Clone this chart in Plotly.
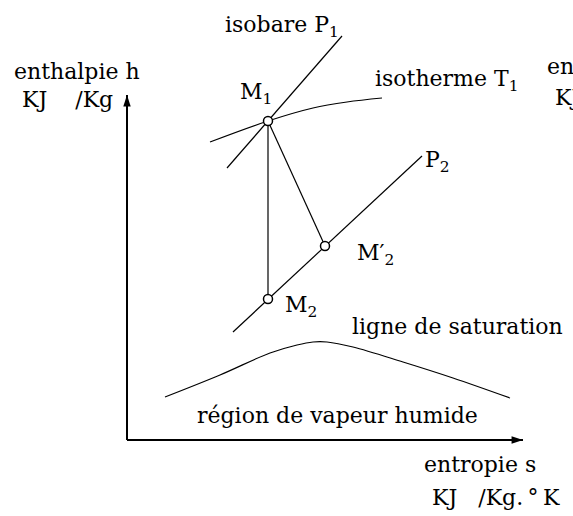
import plotly.graph_objects as go

# h-s (Mollier) sketch: expansion from M1 on isobar P1 down to isobar P2.
# Coordinates are in arbitrary diagram units (s to the right, h upward).

# axes extent (origin at 0, 0)
s_axis_end = 396
h_axis_end = 345

# state points
M1 = (141, 319)
M2 = (141, 141)      # isentropic end state
M2p = (198, 194)     # real end state M'2

# isobar P1 through M1
isobar_p1_s = [100, 215]
isobar_p1_h = [272, 404]

# isobar P2 through M2 and M'2
isobar_p2_s = [106, 295]
isobar_p2_h = [108, 284]

# isotherm T1 through M1
isotherm_s = [83, 141, 186, 220, 255]
isotherm_h = [298, 319, 332, 338, 342]

# saturation curve
sat_s = [38, 93, 143, 170, 186, 200, 226, 276, 326, 383]
sat_h = [43, 65, 87, 95, 98, 98, 93, 78, 62, 42]

FONT = "DejaVu Serif"
FS = 22
NB = "\u00a0"
THIN = "\u2009"

h_unit = "KJ" + NB * 4 + "/Kg"
s_unit = "KJ" + NB * 3 + "/Kg." + THIN + "°" + THIN + "K"

labels = [
    # text, s (left edge), h (vertical centre)
    ("isobare P<sub>1</sub>", 96, 414),
    ("isotherme T<sub>1</sub>", 246, 360),
    ("enthalpie h", -115, 369),
    (h_unit, -107, 341),
    ("enthalpie h", 418, 374),
    (h_unit, 426, 343),
    ("M<sub>1</sub>", 111, 347),
    ("P<sub>2</sub>", 296, 279),
    ("M\u2032<sub>2</sub>", 228, 186),
    ("M<sub>2</sub>", 156, 134),
    ("ligne de saturation", 223, 114),
    ("région de vapeur humide", 68, 25),
    ("entropie s", 295, -24),
    (s_unit, 303, -57),
]

thin = dict(color="black", width=1.2)

fig = go.Figure()

# axes
fig.add_trace(go.Scatter(x=[0, 0], y=[0, h_axis_end], mode="lines",
                         line=dict(color="black", width=2)))
fig.add_trace(go.Scatter(x=[0, s_axis_end], y=[0, 0], mode="lines",
                         line=dict(color="black", width=2)))
fig.add_trace(go.Scatter(x=[0, s_axis_end], y=[h_axis_end, 0], mode="markers",
                         marker=dict(symbol="arrow", size=12, color="black",
                                     angle=[0, 90], line=dict(width=0))))

# isobars, isotherm, saturation line
fig.add_trace(go.Scatter(x=isobar_p1_s, y=isobar_p1_h, mode="lines", line=thin))
fig.add_trace(go.Scatter(x=isobar_p2_s, y=isobar_p2_h, mode="lines", line=thin))
fig.add_trace(go.Scatter(x=isotherm_s, y=isotherm_h, mode="lines",
                         line=dict(color="black", width=1.2, shape="spline")))
fig.add_trace(go.Scatter(x=sat_s, y=sat_h, mode="lines",
                         line=dict(color="black", width=1.2, shape="spline")))

# transformations M1 -> M2 and M1 -> M'2
fig.add_trace(go.Scatter(x=[M1[0], M2[0]], y=[M1[1], M2[1]], mode="lines", line=thin))
fig.add_trace(go.Scatter(x=[M1[0], M2p[0]], y=[M1[1], M2p[1]], mode="lines", line=thin))

# state points
fig.add_trace(go.Scatter(x=[M1[0], M2[0], M2p[0]], y=[M1[1], M2[1], M2p[1]],
                         mode="markers",
                         marker=dict(symbol="circle", size=9, color="white",
                                     line=dict(color="black", width=1.5))))

for text, s, h in labels:
    fig.add_annotation(x=s, y=h, text=text, showarrow=False,
                       xanchor="left", yanchor="middle",
                       font=dict(family=FONT, size=FS, color="black"))

fig.update_layout(
    width=573, height=516,
    margin=dict(l=0, r=0, t=0, b=0),
    paper_bgcolor="white", plot_bgcolor="white",
    showlegend=False,
    xaxis=dict(range=[-127, 446], visible=False, fixedrange=True),
    yaxis=dict(range=[-76, 440], visible=False, fixedrange=True),
)

fig.write_html("out.html")
